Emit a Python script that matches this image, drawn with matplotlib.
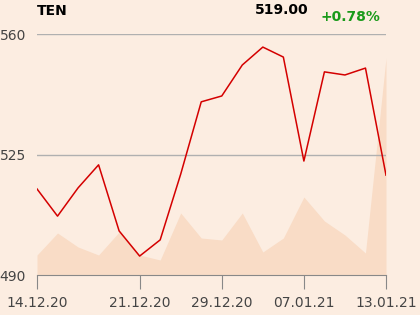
import numpy as np
import matplotlib
matplotlib.use('Agg')
import matplotlib.pyplot as plt

# closing prices, one per trading day
price = [515.0, 507.1, 515.3, 522.0, 502.8, 495.5, 500.2, 519.3, 540.3, 542.0,
         551.0, 556.2, 553.3, 523.1, 549.0, 548.1, 550.1, 519.0]
# traded volume (relative units)
volume = [20, 42, 28, 20, 43, 20, 15, 62, 37, 35, 62, 23, 37, 78, 54, 40, 22, 217]
tick_idx = [0, 5, 9, 13, 17]
tick_lab = ['14.12.20', '21.12.20', '29.12.20', '07.01.21', '13.01.21']
yticks = [490, 525, 560]

bg = '#fcede1'
x = np.arange(len(price))

fig = plt.figure(figsize=(4.2, 3.15), dpi=100, facecolor=bg)
ax = fig.add_axes([37/420, 1-275/315, 349/420, 241/315])
ax.set_facecolor(bg)

ax2 = ax.twinx()
ax2.fill_between(x, volume, 0, color='#f9dcc6', lw=0, zorder=1)
ax2.set_ylim(0, 241)
ax2.axis('off')
ax.set_zorder(ax2.get_zorder()+1)
ax.patch.set_visible(False)
fig.patch.set_facecolor(bg)

for v in yticks[1:]:
    ax.axhline(v, color='#b0b0b0', lw=1, zorder=2)
ax.plot(x, price, color='#d40000', lw=1.1, zorder=3)

ax.set_xlim(0, 17)
ax.set_ylim(490, 560)
for s in ['top', 'right', 'left']:
    ax.spines[s].set_visible(False)
ax.spines['bottom'].set_color('#888888')
ax.set_xticks(tick_idx)
ax.set_xticklabels(tick_lab, fontsize=10, color='#444444')
ax.tick_params(axis='x', length=10, color='#888888', pad=5)
ax.set_yticks(yticks)
ax.set_yticklabels([str(v) for v in yticks], fontsize=10, color='#444444')
ax.tick_params(axis='y', length=0, pad=8)

fig.text(37/420, 1-11/315, 'TEN', fontsize=10, fontweight='bold', va='center', ha='left')
fig.text(308/420, 1-10/315, '519.00', fontsize=10, fontweight='bold', va='center', ha='right')
fig.text(321/420, 1-17/315, '+0.78%', fontsize=10, fontweight='bold', color='#1a9a1a', va='center', ha='left')

fig.savefig('out.png', dpi=100, facecolor=bg)
